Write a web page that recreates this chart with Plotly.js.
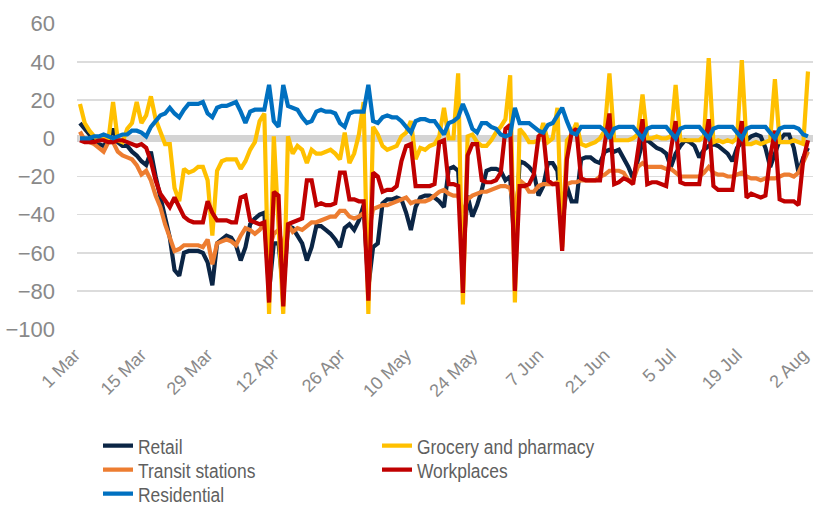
<!DOCTYPE html>
<html>
<head>
<meta charset="utf-8">
<script src="https://cdn.plot.ly/plotly-3.0.1.min.js"></script>
<style>
  html, body { margin: 0; padding: 0; background: #ffffff; }
  #chart { width: 813px; height: 505px; }
  /* condensed legend lettering (all legend rows) */
  #chart .infolayer g[class*="legend"] text {
    transform: scaleX(0.83) !important;
    transform-box: fill-box !important;
    transform-origin: 0% 50% !important;
  }
</style>
</head>
<body>
<div id="chart"></div>
<script>
// Daily mobility change vs. baseline (%), 1 Mar – 2 Aug, one row per week (Sun–Sat)
const firstDay = '2020-03-01';

const retail = [
  8, 5, 2, -2, -3, -4, -1,
  5, -2, -4, -4, -7, -9, -12,
  -14, -7, -20, -30, -42, -52, -69,
  -72, -60, -59, -59, -59, -60, -65,
  -77, -55, -53, -51, -52, -56, -64,
  -57, -45, -42, -40, -39, -80, -55,
  -55, -80, -46, -47, -51, -55, -64,
  -57, -46, -46, -48, -50, -53, -57,
  -47, -45, -48, -43, -35, -78, -57,
  -55, -34, -32, -32, -31, -32, -39,
  -48, -36, -31, -30, -30, -31, -33,
  -36, -16, -15, -17, -60, -30, -41,
  -35, -27, -17, -16, -16, -17, -22,
  -20, -60, -12, -13, -15, -18, -30,
  -25, -13, -13, -17, -45, -25, -33,
  -33, -11, -10, -10, -12, -13, -7,
  -6, -7, -6, -10, -15, -21, -12,
  -2, -1, -3, -5, -6, -8, -15,
  -8, -4, -1, -2, -4, -10, -6,
  -4, -3, -4, -6, -8, -12, -5,
  -2, -1, 1, 2, 1, -5, -15,
  -8, -1, 2, 2, -5, -18, -10,
  -5
];

const grocery = [
  18, 8, 4, 1, -1, 0, -1,
  19, -1, -2, 5, 8, 19, 8,
  12, 22, 10, 3, -3, -3, -26,
  -33, -16, -18, -17, -15, -15, -22,
  -51, -17, -12, -11, -11, -11, -16,
  -12, -6, -2, 9, 13, -92, 1,
  -46, -92, 1, -8, -4, -6, -13,
  -6, -8, -8, -7, -6, -8, -11,
  3, -13, -8, 2, 19, -92, 6,
  2, -4, -6, -5, -4, 1, 3,
  9, -11, -5, -6, -4, -3, 1,
  16, 0, 0, 34, -87, 1, 2,
  -2, -4, -4, -1, 3, 6, 10,
  33, -86, 5, 2, -2, -2, -1,
  8, -2, 0, 16, -57, -1, 2,
  8, -3, -4, -3, -2, 0, 4,
  34, -1, -1, -1, -1, 0, 2,
  23, 0, 0, 1, 0, 0, 1,
  28, -1, -1, -1, -1, -1, 1,
  42, -2, -1, -2, -1, -2, 0,
  41, -3, -3, -2, -3, -2, -1,
  31, -2, -2, -2, -1, -2, -3,
  35
];

const transit = [
  3.5, -1, -2, -3, -5, -7, -2,
  -2, -7, -9, -10, -11, -14, -19,
  -17, -22, -30, -36, -45, -52, -59,
  -58, -56, -56, -56, -56, -57, -53,
  -66, -55, -54, -53, -54, -56, -51,
  -47, -48, -50, -48, -45, -58, -50,
  -48, -58, -45, -49, -47, -48, -46,
  -44, -44, -43, -42, -41, -41, -38,
  -38, -41, -42, -41, -39, -50, -37,
  -36, -35, -35, -34, -33, -32, -31,
  -34, -33, -33, -33, -32, -30, -28,
  -27, -29, -30, -30, -39, -32, -30,
  -29, -28, -28, -27, -26, -25, -25,
  -26, -38, -22, -24, -28, -28, -25,
  -24, -24, -24, -23, -33, -24, -23,
  -23, -22, -22, -22, -22, -20, -19,
  -17, -17, -17, -18, -22, -22, -15,
  -13, -15, -15, -15, -15, -16, -16,
  -18, -20, -20, -20, -20, -20, -18,
  -15, -18, -19, -19, -20, -20, -19,
  -18, -20, -21, -21, -22, -21, -21,
  -21, -20, -19, -19, -20, -18, -12,
  -7
];

const workplaces = [
  -1, -2, -2, -2, -1, -1, -2,
  -2, -1, -1, -2, -3, -4, -3,
  -5, -12, -22, -29, -33, -36, -31,
  -36, -41, -43, -44, -44, -44, -33,
  -39, -43, -43, -43, -44, -44, -31,
  -30, -43, -44, -45, -44, -86, -28,
  -30, -88, -45, -44, -43, -42, -22,
  -22, -35, -34, -35, -35, -34, -18,
  -18, -32, -32, -33, -33, -85, -18,
  -20, -28, -27, -27, -25, -12, -4,
  -3, -25, -25, -25, -25, -24, -2,
  -1, -24, -24, -25, -81, -9, -3,
  -3, -22, -23, -23, -22, -18, 5,
  7, -80, -25, -25, -24, -19, 1,
  3, -22, -24, -24, -59, -11, 3,
  5, -21, -22, -22, -22, -22, -3,
  13, -24, -23, -21, -22, -24, -5,
  10, -24, -23, -23, -24, -25, -6,
  9, -23, -24, -24, -24, -24, -6,
  10, -25, -27, -27, -27, -27, -8,
  9, -31, -29, -30, -31, -30, -10,
  4, -32, -33, -33, -33, -35, -11,
  -1
];

const residential = [
  0, 0, 0, 1, 1, 2, 1,
  0, 1, 2, 2, 4, 4, 3,
  1, 6, 9, 12, 13, 16, 13,
  11, 15, 18, 18, 18, 19, 13,
  11, 16, 17, 17, 18, 19, 14,
  8, 14, 15, 15, 15, 28, 9,
  6, 28, 17, 16, 15, 11, 8,
  9, 14, 15, 14, 14, 13, 8,
  6, 13, 14, 14, 14, 28, 9,
  8, 11, 12, 11, 11, 9, 6,
  3, 9, 10, 10, 9, 9, 5,
  2, 8, 9, 11, 18, 12, 5,
  3, 8, 8, 6, 5, 2, 1,
  2, 16, 8, 8, 8, 6, 4,
  3, 7, 8, 12, 16, 9, 3,
  2, 6, 6, 6, 6, 6, 4,
  0, 5, 6, 6, 6, 6, 3,
  0, 5, 6, 6, 6, 6, 3,
  0, 5, 6, 6, 6, 6, 3,
  0, 5, 6, 6, 6, 6, 3,
  0, 5, 6, 6, 6, 6, 3,
  0, 5, 6, 6, 6, 5, 2,
  1
];

const seriesNames = ['Retail', 'Grocery and pharmacy', 'Transit stations', 'Workplaces', 'Residential'];
const seriesColors = ['#0b2545', '#ffc000', '#ed7d31', '#c00000', '#0070c0'];
// legend rows: two entries per row, two columns
const seriesLegend = ['legend', 'legend', 'legend2', 'legend2', 'legend3'];

// Daily date axis
const DAY = 86400000;
const t0 = Date.parse(firstDay + 'T00:00:00Z');
const dates = retail.map((_, i) => new Date(t0 + i * DAY).toISOString().slice(0, 10));
const tEnd = t0 + (retail.length - 1) * DAY;

// Drawing order (bottom to top)
const drawOrder = [
  { y: retail, k: 0 },
  { y: transit, k: 2 },
  { y: grocery, k: 1 },
  { y: workplaces, k: 3 },
  { y: residential, k: 4 }
];

const traces = drawOrder.map(s => ({
  type: 'scatter',
  mode: 'lines',
  x: dates,
  y: s.y,
  name: seriesNames[s.k],
  legend: seriesLegend[s.k],
  legendrank: s.k + 1,
  line: { color: seriesColors[s.k], width: 4.2 },
  hoverinfo: 'skip'
}));

const tickFont = { family: '"Liberation Sans", Arial, sans-serif', color: '#898989' };
const legendFont = { family: '"Liberation Sans", Arial, sans-serif', size: 21, color: '#5f5f5f' };

function legendRow(centerY) {
  return {
    orientation: 'h',
    xref: 'container',
    yref: 'container',
    x: 98 / 813,
    xanchor: 'left',
    y: 1 - centerY / 505,
    yanchor: 'middle',
    entrywidth: 234,
    entrywidthmode: 'pixels',
    traceorder: 'normal',
    font: legendFont,
    bgcolor: 'rgba(0,0,0,0)'
  };
}

const layout = {
  width: 813,
  height: 505,
  margin: { l: 77, r: 0, t: 23, b: 175 },
  paper_bgcolor: '#ffffff',
  plot_bgcolor: '#ffffff',
  showlegend: true,
  xaxis: {
    type: 'date',
    range: [t0 - 0.63 * DAY, tEnd + 1.06 * DAY],
    tick0: firstDay,
    dtick: 14 * DAY,
    tickformat: '%-d %b',
    tickangle: -45,
    tickfont: Object.assign({ size: 18 }, tickFont),
    ticklabelstandoff: 10,
    ticklabelshift: -5,
    ticklabeloverflow: 'allow',
    showgrid: false,
    showline: false,
    zeroline: false,
    ticks: ''
  },
  yaxis: {
    range: [-100.4, 60.4],
    tick0: 0,
    dtick: 20,
    tickfont: Object.assign({ size: 22 }, tickFont),
    gridcolor: '#dcdcdc',
    gridwidth: 1.5,
    zeroline: true,
    zerolinecolor: '#d4d4d4',
    zerolinewidth: 7,
    showline: false,
    ticks: '',
    ticklabelstandoff: 21
  },
  legend: legendRow(446),
  legend2: legendRow(470),
  legend3: legendRow(494)
};

Plotly.newPlot('chart', traces, layout, { staticPlot: true, displayModeBar: false });
</script>
</body>
</html>
